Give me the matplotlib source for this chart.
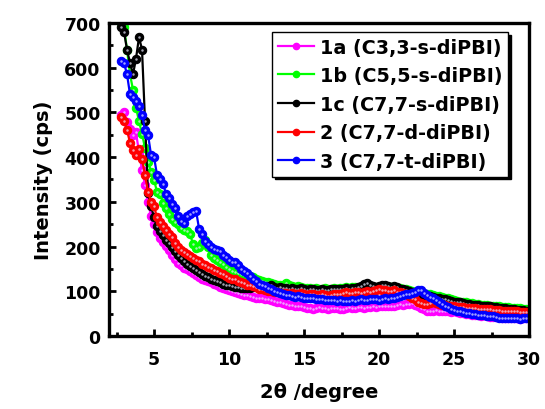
import matplotlib
matplotlib.use("Agg")
import matplotlib.pyplot as plt

plt.rcParams['font.family'] = ['DejaVu Sans']
plt.rcParams['font.weight'] = 'bold'

two_theta = [
    2.8, 3.0, 3.2, 3.4, 3.6, 3.8, 4.0, 4.2, 4.4, 4.6,
    4.8, 5.0, 5.2, 5.4, 5.6, 5.8, 6.0, 6.2, 6.4, 6.6,
    6.8, 7.0, 7.2, 7.4, 7.6, 7.8, 8.0, 8.2, 8.4, 8.6,
    8.8, 9.0, 9.2, 9.4, 9.6, 9.8, 10.0, 10.2, 10.4, 10.6,
    10.8, 11.0, 11.2, 11.4, 11.6, 11.8, 12.0, 12.2, 12.4, 12.6,
    12.8, 13.0, 13.2, 13.4, 13.6, 13.8, 14.0, 14.2, 14.4, 14.6,
    14.8, 15.0, 15.2, 15.4, 15.6, 15.8, 16.0, 16.2, 16.4, 16.6,
    16.8, 17.0, 17.2, 17.4, 17.6, 17.8, 18.0, 18.2, 18.4, 18.6,
    18.8, 19.0, 19.2, 19.4, 19.6, 19.8, 20.0, 20.2, 20.4, 20.6,
    20.8, 21.0, 21.2, 21.4, 21.6, 21.8, 22.0, 22.2, 22.4, 22.6,
    22.8, 23.0, 23.2, 23.4, 23.6, 23.8, 24.0, 24.2, 24.4, 24.6,
    24.8, 25.0, 25.2, 25.4, 25.6, 25.8, 26.0, 26.2, 26.4, 26.6,
    26.8, 27.0, 27.2, 27.4, 27.6, 27.8, 28.0, 28.2, 28.4, 28.6,
    28.8, 29.0, 29.2, 29.4, 29.6, 29.8, 30.0,
]

s1a = [
    495, 500, 478, 462, 450, 455, 410, 372, 338, 300,
    268, 250, 232, 218, 210, 202, 193, 182, 172, 164,
    158, 153, 150, 146, 140, 136, 132, 128, 126, 123,
    120, 117, 113, 110, 107, 104, 102, 100, 99, 97,
    95, 92, 91, 89, 88, 86, 85, 84, 83, 82,
    80, 78, 76, 75, 73, 72, 70, 70, 68, 67,
    66, 65, 63, 62, 61, 62, 64, 63, 62, 61,
    62, 63, 62, 61, 60, 62, 64, 63, 62, 64,
    65, 63, 64, 65, 66, 65, 66, 67, 66, 68,
    67, 68, 70, 72, 70, 71, 72, 74, 70, 66,
    62, 60, 57, 56, 57, 58, 57, 56, 57, 55,
    54, 55, 53, 52, 51, 50, 49, 48, 47, 46,
    45, 46, 44, 43, 42, 43, 42, 41, 40, 41,
    40, 41, 40, 39, 40, 41, 40,
]

s1b = [
    700, 690, 640, 585, 550, 510, 480, 452, 420, 390,
    367, 349, 322, 318, 298, 285, 272, 262, 255, 250,
    242, 238, 234, 228, 205, 196, 200, 208, 214, 198,
    182, 175, 170, 166, 160, 155, 150, 146, 143, 140,
    138, 136, 135, 134, 132, 128, 125, 123, 121, 120,
    118, 116, 114, 113, 115, 118, 114, 111, 110, 112,
    109, 108, 107, 108, 106, 107, 105, 106, 107, 105,
    106, 107, 106, 108, 107, 109, 108, 110, 109, 108,
    109, 108, 110, 111, 109, 108, 110, 109, 111, 110,
    109, 110, 108, 107, 106, 104, 103, 101, 99, 98,
    97, 95, 94, 93, 92, 90, 89, 87, 85, 84,
    82, 80, 79, 77, 76, 75, 74, 73, 72, 71,
    70, 70, 69, 68, 67, 66, 66, 65, 64, 64,
    63, 63, 62, 62, 61, 61, 60,
]

s1c = [
    690, 680, 640, 610, 585, 620, 668, 640, 480, 320,
    290, 265, 245, 235, 225, 215, 208, 198, 190, 182,
    175, 168, 162, 156, 151, 147, 143, 139, 135, 131,
    128, 125, 122, 120, 117, 115, 113, 111, 110, 109,
    108, 108, 107, 108, 110, 109, 110, 111, 110, 112,
    113, 110, 108, 109, 107, 108, 106, 107, 105, 106,
    107, 104, 103, 105, 104, 102, 103, 104, 102, 103,
    104, 105, 104, 106, 105, 107, 106, 108, 107, 109,
    112, 116, 118, 114, 112, 110, 111, 113, 114, 112,
    110, 112, 109, 106, 104, 102, 100, 98, 97, 95,
    94, 92, 90, 89, 87, 86, 84, 83, 82, 80,
    78, 77, 76, 75, 74, 72, 71, 70, 70, 69,
    68, 67, 66, 66, 65, 64, 63, 62, 62, 61,
    60, 60, 59, 58, 58, 57, 56,
]

s2 = [
    490, 480, 460, 432, 415, 405, 418, 395, 360, 322,
    300, 290, 265, 255, 245, 238, 228, 222, 208, 198,
    192, 188, 183, 178, 174, 170, 167, 162, 158, 155,
    151, 148, 145, 141, 138, 134, 130, 128, 127, 124,
    121, 118, 115, 113, 111, 109, 106, 105, 103, 101,
    100, 99, 98, 97, 97, 96, 95, 96, 94, 95,
    96, 94, 92, 93, 94, 92, 91, 93, 92, 90,
    92, 93, 95, 94, 96, 98, 97, 96, 98, 99,
    97, 98, 100, 99, 101, 103, 104, 102, 103, 101,
    100, 102, 99, 98, 96, 93, 90, 86, 82, 77,
    74, 72, 71, 73, 75, 74, 72, 70, 69, 68,
    67, 66, 65, 64, 64, 63, 63, 62, 62, 61,
    61, 60, 61, 60, 59, 58, 58, 57, 56, 57,
    56, 55, 55, 54, 54, 53, 53,
]

s3 = [
    615, 610, 585, 540, 535, 525, 515, 495, 460, 450,
    405, 400, 360, 350, 340, 318, 308, 295, 285, 268,
    258, 252, 268, 272, 278, 280, 240, 228, 212, 205,
    198, 195, 192, 190, 182, 176, 170, 166, 165, 158,
    150, 145, 140, 135, 128, 122, 117, 114, 111, 108,
    104, 100, 98, 96, 94, 92, 91, 90, 88, 89,
    87, 86, 85, 84, 85, 83, 82, 83, 81, 80,
    81, 80, 79, 80, 78, 79, 78, 80, 79, 80,
    82, 81, 80, 82, 83, 82, 81, 83, 84, 83,
    84, 86, 88, 90, 92, 94, 95, 97, 99, 102,
    103, 96, 92, 88, 84, 80, 76, 72, 68, 64,
    61, 59, 57, 55, 54, 52, 51, 50, 49, 48,
    47, 46, 45, 44, 44, 42, 41, 40, 40, 41,
    40, 41, 40, 39, 40, 41, 40,
]

series = [s1a, s1b, s1c, s2, s3]
labels = ["1a (C3,3-s-diPBI)", "1b (C5,5-s-diPBI)", "1c (C7,7-s-diPBI)",
          "2 (C7,7-d-diPBI)", "3 (C7,7-t-diPBI)"]
colors = ["#FF00FF", "#00FF00", "#000000", "#FF0000", "#0000FF"]

fig = plt.figure(figsize=(5.45, 4.10), dpi=100)
ax = fig.add_axes([0.200, 0.178, 0.771, 0.764])

for ys, lab, c in zip(series, labels, colors):
    ax.plot(two_theta, ys, color=c, lw=1.6, marker='o', ms=6.0,
            mfc=c, mec=c, mew=0.8, label=lab)
    ax.plot(two_theta, ys, ls='none', marker='o', ms=1.8, mfc='#E8E8FF',
            mec='none', alpha=0.7)

ax.set_xlim(2, 30)
ax.set_ylim(0, 700)
ax.set_xticks([5, 10, 15, 20, 25, 30])
ax.set_xticks([2.5, 7.5, 12.5, 17.5, 22.5, 27.5], minor=True)
ax.set_yticks([0, 100, 200, 300, 400, 500, 600, 700])
ax.set_yticks([50, 150, 250, 350, 450, 550, 650], minor=True)

for sp in ax.spines.values():
    sp.set_linewidth(2.4)
ax.tick_params(which='major', direction='in', length=5, width=2.0,
               labelsize=12.5, top=False, right=False)
ax.tick_params(which='minor', direction='in', length=3.2, width=2.0,
               top=False, right=False)
ax.tick_params(axis='x', which='major', pad=10)
ax.tick_params(axis='y', which='major', pad=6)

ax.set_xlabel("2\u03b8 /degree", fontsize=14, fontweight='bold', labelpad=10)
ax.set_ylabel("Intensity (cps)", fontsize=14, fontweight='bold', labelpad=8)

leg_handles = []
for c in colors:
    h, = ax.plot([], [], color=c, lw=1.6, marker='o', ms=4.5, mfc=c, mec=c)
    leg_handles.append(h)
leg = ax.legend(leg_handles, labels, loc='upper left',
                bbox_to_anchor=(0.388, 0.971), borderaxespad=0,
                prop={'size': 13.8, 'weight': 'bold'}, frameon=True,
                fancybox=False, edgecolor='black', framealpha=1,
                shadow={'color': 'black', 'alpha': 1},
                handlelength=1.9, handletextpad=0.3, labelspacing=0.5,
                borderpad=0.3)
leg.get_frame().set_linewidth(1.0)

fig.savefig("out.png", dpi=100)
